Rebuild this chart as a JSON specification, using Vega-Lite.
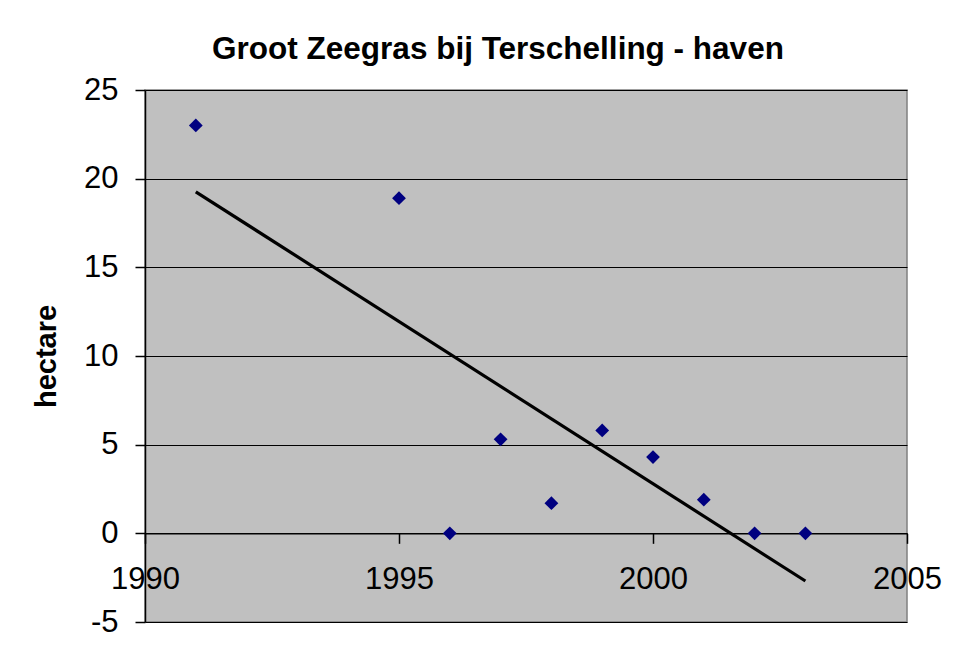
{
  "$schema": "https://vega.github.io/schema/vega-lite/v6.json",
  "width": 762,
  "height": 532,
  "autosize": {"type": "none"},
  "padding": {"left": 145, "top": 90, "right": 69, "bottom": 43},
  "background": "white",
  "title": {
    "text": "Groot Zeegras bij Terschelling - haven",
    "font": "Liberation Sans",
    "fontSize": 31.5,
    "fontWeight": "bold",
    "color": "black",
    "anchor": "middle",
    "dx": -28,
    "offset": 9
  },
  "config": {
    "font": "Liberation Sans",
    "view": {"fill": "#C0C0C0", "stroke": "#808080", "strokeWidth": 1.5}
  },
  "data": {
    "values": [
      {"jaar": 1991, "hectare": 23.0},
      {"jaar": 1995, "hectare": 18.9},
      {"jaar": 1996, "hectare": 0},
      {"jaar": 1997, "hectare": 5.3},
      {"jaar": 1998, "hectare": 1.7},
      {"jaar": 1999, "hectare": 5.8},
      {"jaar": 2000, "hectare": 4.3},
      {"jaar": 2001, "hectare": 1.9},
      {"jaar": 2002, "hectare": 0},
      {"jaar": 2003, "hectare": 0}
    ]
  },
  "encoding": {
    "x": {
      "field": "jaar",
      "type": "quantitative",
      "scale": {"domain": [1990, 2005], "nice": false, "zero": false},
      "axis": {
        "title": null,
        "values": [1990, 1995, 2000, 2005],
        "format": "d",
        "offset": -88.67,
        "grid": false,
        "domainColor": "black",
        "domainWidth": 1.5,
        "tickColor": "black",
        "tickWidth": 1.5,
        "tickSize": 10,
        "labelFont": "Liberation Sans",
        "labelFontSize": 31,
        "labelColor": "black",
        "labelPadding": 21,
        "labelFlush": false,
        "labelOverlap": false
      }
    },
    "y": {
      "field": "hectare",
      "type": "quantitative",
      "scale": {"domain": [-5, 25], "nice": false, "zero": false},
      "axis": {
        "title": "hectare",
        "titleFont": "Liberation Sans",
        "titleFontSize": 29,
        "titleFontWeight": "bold",
        "titleColor": "black",
        "titlePadding": 22,
        "values": [-5, 0, 5, 10, 15, 20, 25],
        "labelExpr": "datum.value < 0 ? '-' + abs(datum.value) : datum.label",
        "grid": true,
        "gridColor": "black",
        "gridWidth": 1,
        "gridOpacity": 1,
        "domainColor": "black",
        "domainWidth": 1.5,
        "tickColor": "black",
        "tickWidth": 1.5,
        "tickSize": 10,
        "labelFont": "Liberation Sans",
        "labelFontSize": 31,
        "labelColor": "black",
        "labelPadding": 17,
        "labelFlush": false,
        "labelOverlap": false
      }
    }
  },
  "layer": [
    {
      "mark": {"type": "point", "shape": "diamond", "filled": true, "size": 190, "color": "#000080", "opacity": 1}
    },
    {
      "transform": [{"regression": "hectare", "on": "jaar"}],
      "mark": {"type": "line", "color": "black", "strokeWidth": 3.2}
    }
  ]
}
